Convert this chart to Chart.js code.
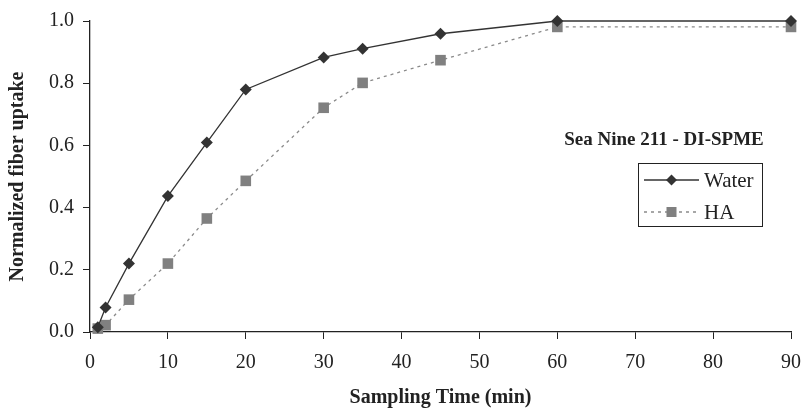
<!DOCTYPE html>
<html><head><meta charset="utf-8">
<script src="https://cdn.jsdelivr.net/npm/chart.js@4/dist/chart.umd.min.js"></script>
<style>html,body{margin:0;padding:0;background:#fff;}canvas{display:block;}</style>
</head><body>
<canvas id="c" width="806" height="410"></canvas>
<script>
const times = [1, 2, 5, 10, 15, 20, 30, 35, 45, 60, 90];
const waterValues = [0.015, 0.079, 0.220, 0.437, 0.609, 0.780, 0.883, 0.911, 0.959, 1.0, 1.0];
const haValues = [0.011, 0.022, 0.104, 0.220, 0.365, 0.486, 0.721, 0.801, 0.874, 0.981, 0.981];
const seriesNames = ['Water', 'HA'];
const chartTitle = 'Sea Nine 211 - DI-SPME';
const xTitle = 'Sampling Time (min)';
const yTitle = 'Normalized fiber uptake';

const FONT = "'Liberation Serif', 'Times New Roman', serif";
const toXY = (xs, ys) => xs.map((x, i) => ({x: x, y: ys[i]}));

const legendPlugin = {
  id: 'boxLegend',
  afterDraw(chart) {
    const ctx = chart.ctx;
    ctx.save();
    ctx.fillStyle = '#222';
    ctx.font = "bold 19px " + FONT;
    ctx.textAlign = 'center';
    ctx.textBaseline = 'middle';
    ctx.fillText(chartTitle, 664, 140);
    ctx.strokeStyle = '#222';
    ctx.lineWidth = 1;
    ctx.strokeRect(638.5, 163.5, 124, 63);
    const rows = [180, 212];
    chart.data.datasets.forEach((ds, i) => {
      const y = rows[i];
      ctx.strokeStyle = ds.borderColor;
      ctx.lineWidth = ds.borderWidth;
      ctx.setLineDash(ds.borderDash || []);
      ctx.beginPath();
      ctx.moveTo(644, y); ctx.lineTo(699, y); ctx.stroke();
      ctx.setLineDash([]);
      ctx.fillStyle = ds.pointBackgroundColor;
      if (ds.pointStyle === 'rectRot') {
        const r = 5.5;
        ctx.beginPath();
        ctx.moveTo(671.5, y - r); ctx.lineTo(671.5 + r, y); ctx.lineTo(671.5, y + r); ctx.lineTo(671.5 - r, y); ctx.closePath(); ctx.fill();
      } else {
        ctx.fillRect(666.5, y - 5, 10, 10);
      }
      ctx.fillStyle = '#222';
      ctx.font = "21px " + FONT;
      ctx.textAlign = 'left';
      ctx.fillText(ds.label, 704, y + 1);
    });
    ctx.restore();
  }
};

new Chart(document.getElementById('c'), {
  type: 'line',
  data: {
    datasets: [
      {
        label: seriesNames[0],
        data: toXY(times, waterValues),
        borderColor: '#333333',
        borderWidth: 1.3,
        pointStyle: 'rectRot',
        pointRadius: 6,
        pointBackgroundColor: '#333333',
        pointBorderColor: '#333333',
        pointBorderWidth: 0,
        tension: 0,
        clip: false
      },
      {
        label: seriesNames[1],
        data: toXY(times, haValues),
        borderColor: '#8a8a8a',
        borderWidth: 1.3,
        borderDash: [3, 4],
        pointStyle: 'rect',
        pointRadius: 7.5,
        pointBackgroundColor: '#808080',
        pointBorderColor: '#808080',
        pointBorderWidth: 0,
        tension: 0,
        clip: false
      }
    ]
  },
  options: {
    responsive: false,
    animation: false,
    layout: {padding: {top: 21, right: 15, left: 0, bottom: 0}},
    plugins: {legend: {display: false}, tooltip: {enabled: false}},
    scales: {
      x: {
        type: 'linear', min: 0, max: 90,
        afterFit: s => { s.height = 78; s.paddingLeft = 0; s.paddingRight = 0; },
        grid: {drawOnChartArea: false, color: '#222', tickLength: 7},
        border: {color: '#222', width: 1.3},
        ticks: {stepSize: 10, color: '#222', font: {family: FONT, size: 20}, padding: 12, maxRotation: 0},
        title: {display: true, text: xTitle, color: '#222', font: {family: FONT, size: 20, weight: 'bold'}, padding: {top: 4, bottom: 0}}
      },
      y: {
        min: 0, max: 1,
        afterFit: s => { s.width = 90; s.paddingTop = 0; s.paddingBottom = 0; },
        grid: {drawOnChartArea: false, color: '#222', tickLength: 7},
        border: {color: '#222', width: 1.3},
        ticks: {stepSize: 0.2, color: '#222', font: {family: FONT, size: 20}, padding: 9, callback: v => v.toFixed(1)},
        title: {display: true, text: yTitle, color: '#222', font: {family: FONT, size: 20, weight: 'bold'}, padding: {top: 6, bottom: 4}}
      }
    }
  },
  plugins: [legendPlugin]
});
</script>
</body></html>
